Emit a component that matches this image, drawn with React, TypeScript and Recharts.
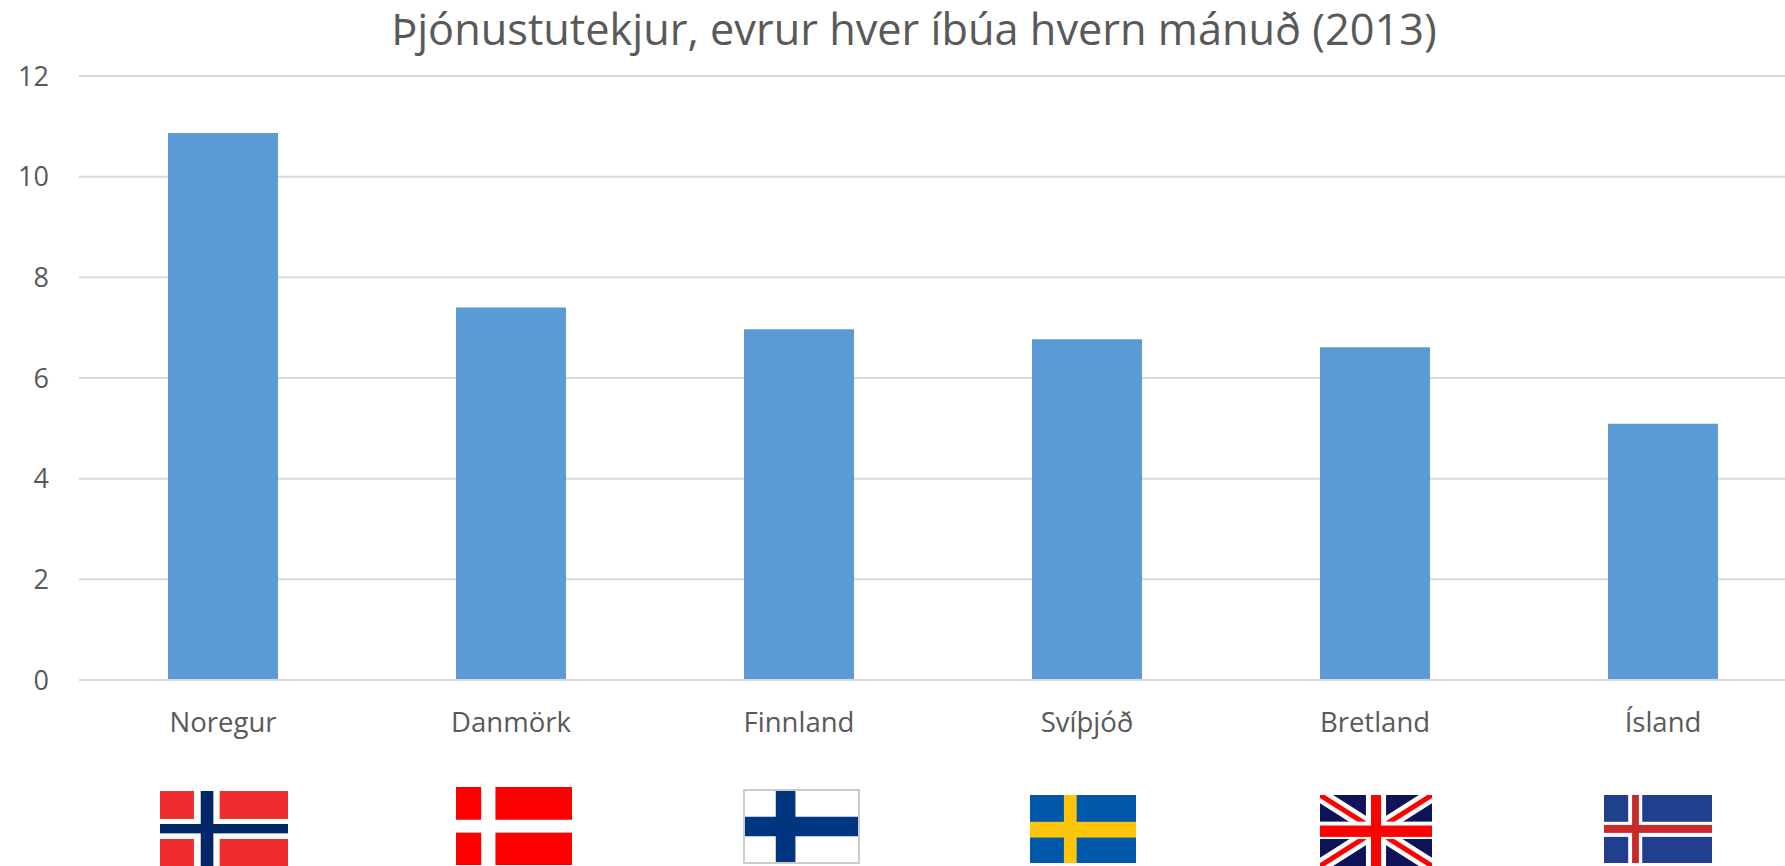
import React from 'react';
import { BarChart, Bar, XAxis, YAxis, CartesianGrid } from 'recharts';

const categories = ['Noregur', 'Danmörk', 'Finnland', 'Svíþjóð', 'Bretland', 'Ísland'];
const values = [10.87, 7.4, 6.97, 6.77, 6.61, 5.09];
const yTicks = [0, 2, 4, 6, 8, 10, 12];
const title = 'Þjónustutekjur, evrur hver íbúa hvern mánuð (2013)';

const data = categories.map((name, i) => ({ name, value: values[i] }));

const textColor = '#595959';
const fontFamily = '"Open Sans", sans-serif';

// dx/dy: offset of the flag from the tick anchor, v/h: cross bands as fractions of the flag
const flags: Record<string, any> = {
  Noregur: { dx: -63, dy: 111, w: 128, h: 75, bg: '#EF2B2D', outer: '#ffffff', inner: '#002868', vo: [0.265, 0.466], vi: [0.318, 0.417], ho: [0.373, 0.64], hi: [0.44, 0.565] },
  'Danmörk': { dx: -55, dy: 107, w: 116, h: 78, bg: '#FF0000', outer: '#ffffff', vo: [0.217, 0.34], ho: [0.42, 0.585] },
  Finnland: { dx: -56, dy: 109, w: 117, h: 75, bg: '#ffffff', inner: '#003580', border: '#cccccc', vi: [0.28, 0.448], hi: [0.37, 0.63] },
  'Svíþjóð': { dx: -57, dy: 115, w: 106, h: 68, bg: '#0058AB', outer: '#FEC60A', vo: [0.32, 0.44], ho: [0.394, 0.626] },
  Bretland: { dx: -55, dy: 115, w: 112, h: 71, bg: '#0E1257', outer: '#ffffff', inner: '#FF0000', vo: [0.41, 0.59], vi: [0.455, 0.545], ho: [0.375, 0.62], hi: [0.43, 0.59], diagonal: true },
  'Ísland': { dx: -59, dy: 115, w: 108, h: 68, bg: '#203F8C', outer: '#ffffff', inner: '#C8292B', vo: [0.224, 0.354], vi: [0.26, 0.323], ho: [0.394, 0.616], hi: [0.44, 0.557] },
};

const Flag = ({ x, y, f }: { x: number; y: number; f: any }) => (
  <svg x={x} y={y} width={f.w} height={f.h}>
    <rect width={f.w} height={f.h} fill={f.bg} />
    {f.diagonal && (
      <g>
        <line x1={0} y1={0} x2={f.w} y2={f.h} stroke="#ffffff" strokeWidth={14} />
        <line x1={f.w} y1={0} x2={0} y2={f.h} stroke="#ffffff" strokeWidth={14} />
        <line x1={0} y1={0} x2={f.w} y2={f.h} stroke="#FF0000" strokeWidth={5} />
        <line x1={f.w} y1={0} x2={0} y2={f.h} stroke="#FF0000" strokeWidth={5} />
      </g>
    )}
    {f.vo && <rect x={f.vo[0] * f.w} width={(f.vo[1] - f.vo[0]) * f.w} height={f.h} fill={f.outer} />}
    {f.ho && <rect y={f.ho[0] * f.h} width={f.w} height={(f.ho[1] - f.ho[0]) * f.h} fill={f.outer} />}
    {f.vi && <rect x={f.vi[0] * f.w} width={(f.vi[1] - f.vi[0]) * f.w} height={f.h} fill={f.inner} />}
    {f.hi && <rect y={f.hi[0] * f.h} width={f.w} height={(f.hi[1] - f.hi[0]) * f.h} fill={f.inner} />}
    {f.border && <rect x={1} y={1} width={f.w - 2} height={f.h - 2} fill="none" stroke={f.border} strokeWidth={2} />}
  </svg>
);

const CategoryTick = ({ x, y, payload }: any) => {
  const f = flags[payload.value];
  return (
    <g>
      <text x={x} y={y + 52} textAnchor="middle" fontSize={27.5} fontFamily={fontFamily} fill={textColor}>
        {payload.value}
      </text>
      <Flag x={x + f.dx} y={y + f.dy} f={f} />
    </g>
  );
};

export default function App() {
  return (
    <div style={{ position: 'absolute', left: 0, top: 0, width: 1785, height: 866, overflow: 'hidden', background: '#fff' }}>
      <BarChart
        width={1807}
        height={866}
        data={data}
        margin={{ top: 76, right: 0, bottom: 0, left: 0 }}
        style={{ overflow: 'visible' }}
      >
        <CartesianGrid vertical={false} stroke="#D9D9D9" strokeWidth={2} />
        <XAxis
          dataKey="name"
          height={186}
          interval={0}
          tickLine={false}
          tickSize={0}
          tickMargin={0}
          stroke="#D9D9D9"
          strokeWidth={2}
          tick={<CategoryTick />}
        />
        <YAxis
          width={79}
          domain={[0, 12]}
          ticks={yTicks}
          axisLine={false}
          tickLine={false}
          tickSize={0}
          tickMargin={30}
          tick={{ fontSize: 27, fontFamily, fill: textColor }}
        />
        <Bar dataKey="value" fill="#5B9BD5" barSize={110} isAnimationActive={false} />
        <text x={914} y={45} textAnchor="middle" fontSize={43.3} fontFamily={fontFamily} fill={textColor}>
          {title}
        </text>
      </BarChart>
    </div>
  );
}
